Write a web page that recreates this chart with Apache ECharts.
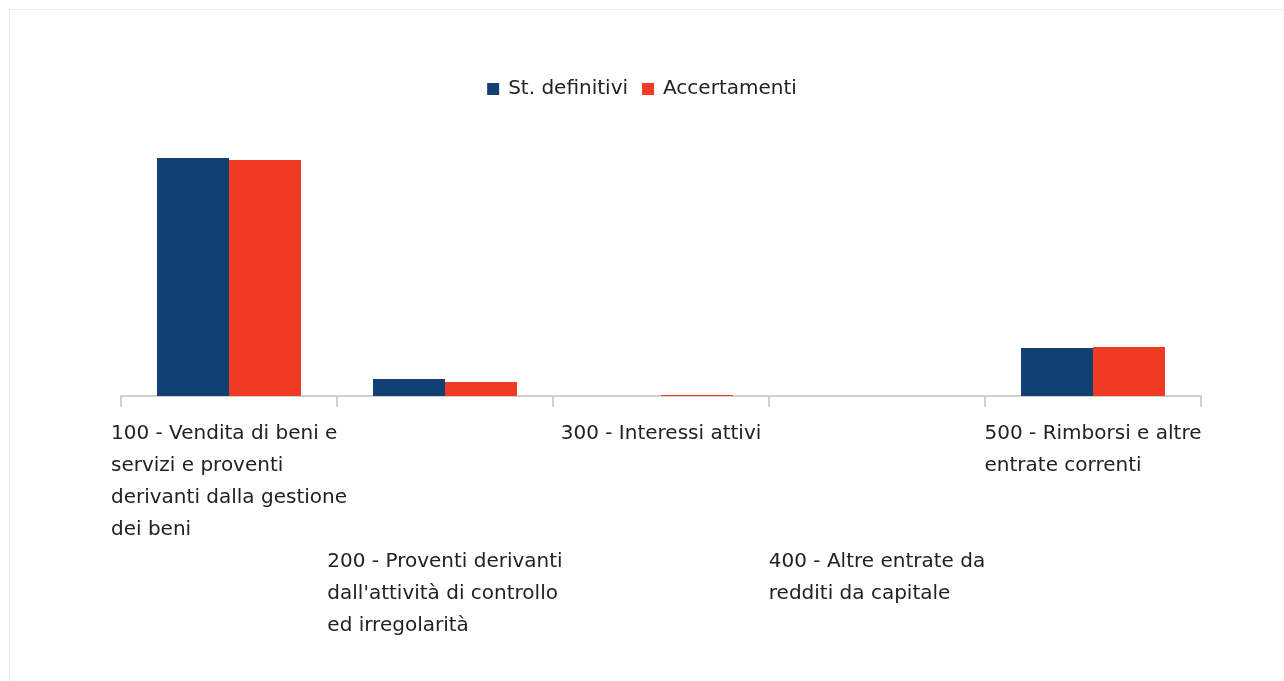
<!DOCTYPE html>
<html>
<head>
<meta charset="utf-8">
<script src="https://cdn.jsdelivr.net/npm/echarts@6/dist/echarts.min.js"></script>
<style>
html,body{margin:0;padding:0;background:#fff;width:1284px;height:681px;overflow:hidden;}
#frame{position:absolute;left:9px;top:9px;width:1290px;height:700px;border:1px solid #ececec;box-sizing:border-box;}
#chart{position:absolute;left:0;top:0;width:1284px;height:681px;}
</style>
</head>
<body>
<div id="frame"></div>
<div id="chart"></div>
<script>
const categories = [
  "100 - Vendita di beni e\nservizi e proventi\nderivanti dalla gestione\ndei beni",
  "200 - Proventi derivanti\ndall'attività di controllo\ned irregolarità",
  "300 - Interessi attivi",
  "400 - Altre entrate da\nredditi da capitale",
  "500 - Rimborsi e altre\nentrate correnti"
];
const seriesNames = ["St. definitivi", "Accertamenti"];
const stDefinitivi = [2380, 170, 0, 0, 480];
const accertamenti = [2360, 140, 10, 0, 490];

const FONT = 'DejaVu Sans';
const FS = 20;
function fmt(v){ return v.split('\n').map(l => '{a|' + l + '}').join('\n'); }
const labelBase = {
  color: '#222', fontFamily: FONT, fontSize: FS, lineHeight: 32,
  formatter: fmt,
  rich: { a: { align: 'left', color: '#222', fontFamily: FONT, fontSize: FS, lineHeight: 32 } }
};

const chart = echarts.init(document.getElementById('chart'), null, {renderer: 'canvas'});
chart.setOption({
  animation: false,
  backgroundColor: 'transparent',
  legend: {
    data: seriesNames,
    top: 74,
    left: 'center',
    itemWidth: 12, itemHeight: 12, itemGap: 14,
    icon: 'rect',
    textStyle: { fontFamily: FONT, fontSize: FS, color: '#222', padding: [0, 0, 0, 4] }
  },
  grid: { left: 121, right: 83, top: 110, bottom: 285, containLabel: false },
  xAxis: [
    {
      type: 'category', data: categories, position: 'bottom',
      axisLine: { lineStyle: { color: '#cfcfcf', width: 2 } },
      axisTick: { show: true, interval: 0, length: 11, lineStyle: { color: '#cfcfcf', width: 2 } },
      axisLabel: Object.assign({}, labelBase, { interval: (i) => i % 2 === 0, margin: 22 })
    },
    {
      type: 'category', data: categories, position: 'bottom', offset: 0,
      axisLine: { show: false }, axisTick: { show: false },
      axisLabel: Object.assign({}, labelBase, { interval: (i) => i % 2 === 1, margin: 150 })
    }
  ],
  yAxis: { type: 'value', min: 0, max: 2860, show: false, splitLine: { show: false } },
  series: [
    { name: seriesNames[0], type: 'bar', data: stDefinitivi, xAxisIndex: 0,
      barGap: '0%', barCategoryGap: '33.33%', itemStyle: { color: '#123f74' } },
    { name: seriesNames[1], type: 'bar', data: accertamenti, xAxisIndex: 0,
      barGap: '0%', barCategoryGap: '33.33%', itemStyle: { color: '#ef3a24' } }
  ]
});
</script>
</body>
</html>
